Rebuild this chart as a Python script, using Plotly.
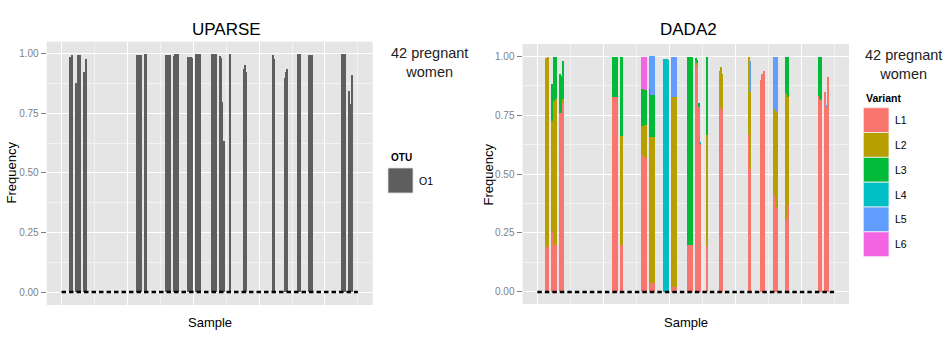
import plotly.graph_objects as go

# ---------------- data ----------------
# position of each woman's sample group on the (hidden) Sample axis
group_x = [1.42, 2.51, 3.57, 11.74, 12.73, 16.10, 17.30, 19.52, 20.70, 23.12,
           24.29, 25.63, 27.81, 32.13, 34.05, 36.06, 37.82, 42.80, 43.83]
sample_range = [0, 45]

# UPARSE: frequency of OTU O1 in each sample of each group
uparse_o1 = [
    [0.989, 0.989, 0.996],
    [0.878, 0.995, 0.990, 0.995],
    [0.923, 0.915, 0.979],
    [0.996, 0.996, 0.996, 0.996],
    [0.998, 0.998],
    [0.996, 0.996, 0.996, 0.996],
    [0.993, 1.000, 1.000, 1.000],
    [0.989, 0.989, 0.989, 0.985],
    [0.998, 0.998, 0.998, 0.998],
    [0.998, 0.998, 0.998, 0.998],
    [0.990, 0.985, 0.800, 0.636],
    [0.998],
    [0.937, 0.953, 0.923],
    [0.995, 0.980],
    [0.899, 0.923, 0.937],
    [0.998, 0.998, 0.998],
    [0.995, 0.995, 0.995],
    [0.998, 0.998, 0.998],
    [0.846, 0.790, 0.912],
]

# DADA2: frequency of each variant in each sample
dada2_L1 = [
    [0.19, 0.19, 0.19], [0.26, 0.21, 0.20, 0.20], [0.757, 0.757, 0.80],
    [0.828, 0.828, 0.828, 0.828], [0.20, 0.20], [0.58, 0.58, 0.567, 0.567],
    [0.036, 0.036, 0.036, 0.036], [0, 0, 0, 0], [0.022, 0.022, 0.022, 0.022],
    [0.198, 0.198, 0.198, 0.198], [0.959, 0.959, 0.785, 0.63], [0.196],
    [0.785, 0.81, 0.77], [0.67, 0.52], [0.899, 0.923, 0.937],
    [0.41, 0.38, 0.356], [0.311, 0.34, 0.367], [0.832, 0.82, 0.814],
    [0.846, 0.785, 0.912],
]
dada2_L2 = [
    [0.80, 0.80, 0.807], [0.465, 0.60, 0.62, 0.62], [0, 0, 0.02],
    [0, 0, 0, 0], [0.46, 0.46], [0.125, 0.125, 0.14, 0.14],
    [0.622, 0.622, 0.622, 0.622], [0, 0, 0, 0], [0.806, 0.806, 0.806, 0.806],
    [0, 0, 0, 0], [0.02, 0.01, 0, 0], [0.471],
    [0.152, 0.143, 0.153], [0.325, 0.329], [0, 0, 0],
    [0.367, 0.39, 0.407], [0.538, 0.50, 0.461], [0, 0, 0],
    [0, 0, 0],
]
dada2_L3 = [
    [0, 0, 0], [0.155, 0.185, 0.17, 0.175], [0.166, 0.158, 0.159],
    [0.168, 0.168, 0.168, 0.168], [0.338, 0.338], [0.157, 0.157, 0.148, 0.148],
    [0.204, 0.177, 0.177, 0.177], [0, 0, 0, 0], [0, 0, 0, 0],
    [0.80, 0.80, 0.80, 0.80], [0.011, 0.016, 0.015, 0], [0.331],
    [0, 0, 0], [0, 0], [0, 0, 0],
    [0, 0, 0], [0.146, 0.155, 0.167], [0.166, 0.178, 0.184],
    [0, 0, 0],
]
dada2_L4 = [
    [0, 0, 0], [0, 0, 0, 0], [0, 0, 0],
    [0, 0, 0, 0], [0, 0], [0, 0, 0, 0],
    [0, 0, 0, 0], [0.989, 0.989, 0.989, 0.985], [0, 0, 0, 0],
    [0, 0, 0, 0], [0, 0, 0, 0.006], [0],
    [0, 0, 0], [0, 0], [0, 0, 0],
    [0, 0, 0], [0, 0, 0], [0, 0, 0],
    [0, 0, 0],
]
dada2_L5 = [
    [0, 0, 0], [0, 0, 0, 0], [0, 0, 0],
    [0, 0, 0, 0], [0, 0], [0, 0, 0, 0],
    [0.138, 0.165, 0.165, 0.165], [0, 0, 0, 0], [0.17, 0.17, 0.17, 0.17],
    [0, 0, 0, 0], [0, 0, 0, 0], [0],
    [0, 0, 0], [0, 0.131], [0, 0, 0],
    [0.221, 0.228, 0.235], [0, 0, 0], [0, 0, 0],
    [0, 0.005, 0],
]
dada2_L6 = [
    [0, 0, 0], [0, 0, 0, 0], [0, 0, 0],
    [0, 0, 0, 0], [0, 0], [0.134, 0.134, 0.141, 0.141],
    [0, 0, 0, 0], [0, 0, 0, 0], [0, 0, 0, 0],
    [0, 0, 0, 0], [0, 0, 0, 0], [0],
    [0, 0, 0], [0, 0], [0, 0, 0],
    [0, 0, 0], [0, 0, 0], [0, 0, 0],
    [0, 0, 0],
]
variant_names = ["L1", "L2", "L3", "L4", "L5", "L6"]
dada2_values = [dada2_L1, dada2_L2, dada2_L3, dada2_L4, dada2_L5, dada2_L6]
y_ticks = [0, 0.25, 0.5, 0.75, 1.0]

# ---------------- style ----------------
W, H = 952, 345
SAMPLE_W = 0.2
variant_colors = ["#F8766D", "#B79F00", "#00BA38", "#00BFC4", "#619CFF", "#F564E3"]
otu_color = "#5E5E5E"
FONT = "Liberation Sans, Arial, Helvetica, sans-serif"


def sample_positions(groups):
    xs = []
    for c, vals in zip(group_x, groups):
        n = len(vals)
        for k in range(n):
            xs.append(c + (k - (n - 1) / 2) * SAMPLE_W)
    return xs


def flat(groups):
    return [v for g in groups for v in g]


xs = sample_positions(uparse_o1)

fig = go.Figure()

fig.add_trace(go.Bar(x=xs, y=flat(uparse_o1), width=SAMPLE_W, name="O1",
                     marker=dict(color=otu_color, line=dict(width=0)),
                     xaxis="x", yaxis="y", showlegend=False))
fig.add_trace(go.Scatter(x=sample_range, y=[0, 0], mode="lines",
                         line=dict(color="black", width=2.5, dash="4.5px,3px"),
                         xaxis="x", yaxis="y", showlegend=False, hoverinfo="skip"))

for name, vals, col in zip(variant_names, dada2_values, variant_colors):
    fig.add_trace(go.Bar(x=xs, y=flat(vals), width=SAMPLE_W, name=name,
                         marker=dict(color=col, line=dict(width=0)),
                         xaxis="x2", yaxis="y2", showlegend=False))
fig.add_trace(go.Scatter(x=sample_range, y=[0, 0], mode="lines",
                         line=dict(color="black", width=2.5, dash="4.5px,3px"),
                         xaxis="x2", yaxis="y2", showlegend=False, hoverinfo="skip"))


def px_x(p):
    return p / W


def px_y(p):
    return 1 - p / H


xaxis_common = dict(range=[-2.25, 47.25], showticklabels=False, ticks="",
                    tickmode="linear", tick0=0, dtick=10,
                    showgrid=True, gridcolor="white", gridwidth=1.1,
                    zeroline=False, showline=False,
                    minor=dict(tickmode="linear", tick0=0, dtick=5, showgrid=True,
                               gridcolor="#F2F2F2", gridwidth=0.6, ticks=""))
yaxis_common = dict(tickmode="array", tickvals=y_ticks,
                    ticktext=[f"{v:.2f}" for v in y_ticks],
                    tickfont=dict(family=FONT, size=10, color="#7F7F7F"),
                    ticks="outside", ticklen=5, tickwidth=1, tickcolor="#7F7F7F",
                    showgrid=True, gridcolor="white", gridwidth=1.1,
                    zeroline=False, showline=False,
                    minor=dict(tickmode="linear", tick0=0, dtick=0.125, showgrid=True,
                               gridcolor="#F2F2F2", gridwidth=0.6, ticks=""))

fig.update_layout(
    template="none",
    width=W, height=H, margin=dict(l=0, r=0, t=0, b=0),
    paper_bgcolor="white", plot_bgcolor="#E5E5E5",
    barmode="stack", bargap=0, showlegend=False,
    font=dict(family=FONT, color="black"),
    xaxis=dict(domain=[px_x(46.7), px_x(372.7)], anchor="y", **xaxis_common),
    yaxis=dict(domain=[px_y(305), px_y(41.7)], anchor="x",
               range=[-0.0545, 1.05], **yaxis_common),
    xaxis2=dict(domain=[px_x(522.5), px_x(849)], anchor="y2", **xaxis_common),
    yaxis2=dict(domain=[px_y(304), px_y(44)], anchor="x2",
                range=[-0.051, 1.051], **yaxis_common),
)

ann = []


def text(x, y, s, size, color="black", xanchor="center", **kw):
    d = dict(x=px_x(x), y=px_y(y), xref="paper", yref="paper", text=s,
             showarrow=False, xanchor=xanchor, yanchor="middle",
             font=dict(family=FONT, size=size, color=color))
    d.update(kw)
    ann.append(d)


# titles
text(226.7, 30, "UPARSE", 17)
text(688, 30, "DADA2", 17)
# axis titles
text(10.5, 173, "Frequency", 13, textangle=-90)
text(487.5, 174, "Frequency", 13, textangle=-90)
text(209.7, 322, "Sample", 13)
text(685.7, 322, "Sample", 13)
# subtitle
text(429, 62, "42 pregnant<br>women", 14.5, color="#222222")
text(903, 64, "42 pregnant<br>women", 14.5, color="#222222")

shapes = []
# UPARSE legend
text(389, 158, "<b>OTU</b>", 10, xanchor="left")
shapes.append(dict(type="rect", xref="paper", yref="paper",
                   x0=px_x(388), x1=px_x(413), y0=px_y(193), y1=px_y(168),
                   fillcolor=otu_color, line=dict(color="#E0E0E0", width=0.8)))
text(417, 181, "O1", 10.5, xanchor="left")

# DADA2 legend
text(864, 98.3, "<b>Variant</b>", 10.5, xanchor="left")
key_top, key_h = 107.7, 24.83
for i, (name, col) in enumerate(zip(variant_names, variant_colors)):
    y0 = key_top + i * key_h
    shapes.append(dict(type="rect", xref="paper", yref="paper",
                       x0=px_x(863.3), x1=px_x(889), y0=px_y(y0 + key_h), y1=px_y(y0),
                       fillcolor=col, line=dict(color="#F4F4F4", width=0.8)))
    text(892.5, y0 + key_h / 2, name, 10.5, xanchor="left")

fig.update_layout(annotations=ann, shapes=shapes)
fig.write_html("out.html")
